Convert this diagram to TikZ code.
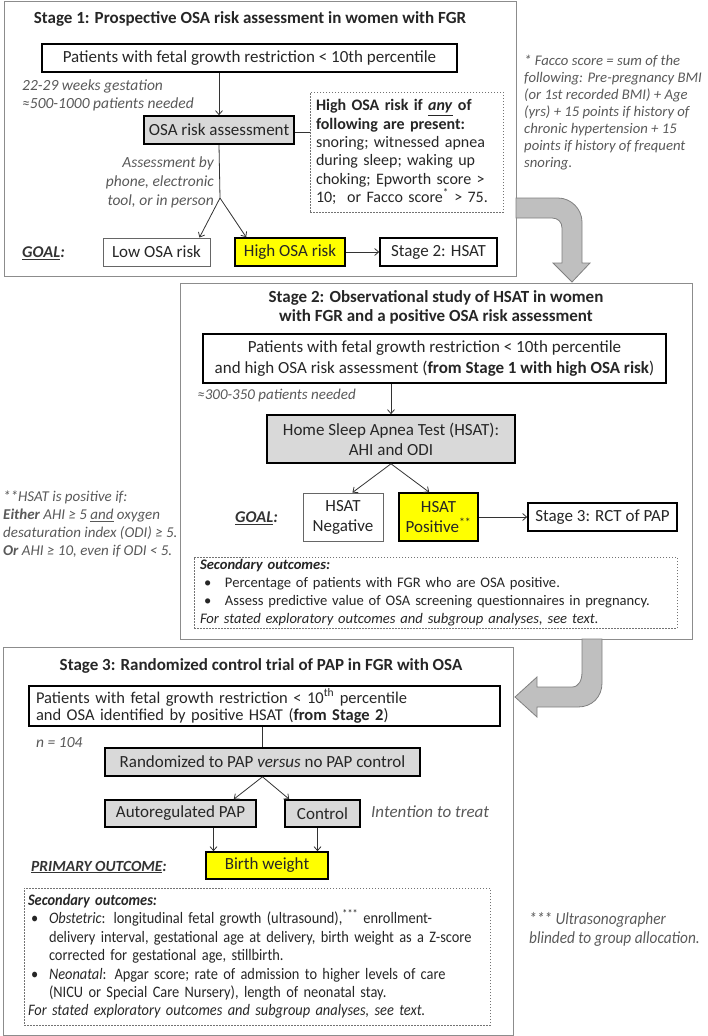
\documentclass[tikz,border=0pt]{standalone}
\usepackage{fontspec}
\setmainfont{Carlito}
\newfontfamily\narrowfont[FakeStretch=0.9]{Carlito}
\usetikzlibrary{arrows.meta}

\definecolor{boxgray}{HTML}{D9D9D9}
\definecolor{hiyellow}{HTML}{FFFF00}
\definecolor{notegray}{HTML}{595959}
\definecolor{framegray}{HTML}{8C8C8C}
\definecolor{arrowgray}{HTML}{BFBFBF}

\tikzset{
  stageframe/.style={draw=framegray, line width=0.9pt},
  box/.style={draw=black, line width=1.6pt, inner sep=0pt, text=black!85, font=\fontsize{17}{20}\selectfont, align=center},
  graybox/.style={box, fill=boxgray},
  hibox/.style={box, fill=hiyellow},
  thinbox/.style={box, draw=black!60, line width=0.9pt},
  dotbox/.style={draw=black!55, dash pattern=on 1.5pt off 1.5pt, line width=0.8pt, inner ysep=0pt, text=black!85, align=left},
  sidenote/.style={text=notegray, font=\fontsize{15}{18}\selectfont\itshape, align=left, inner sep=0pt},
  stagetitle/.style={font=\fontsize{17}{19}\selectfont\bfseries, text=black!85, align=center, inner sep=0pt},
  goal/.style={font=\fontsize{16.4}{18}\selectfont\bfseries\itshape, text=black!80, inner sep=0pt},
  flow/.style={-{Straight Barb[length=4pt,width=7pt]}, line width=0.8pt, draw=black!80},
  thinline/.style={line width=0.8pt, draw=black!80},
  bigarrow/.style={fill=arrowgray, draw=black!50, line width=0.8pt},
}

\begin{document}
\begin{tikzpicture}[x=1pt, y=-1pt]
	\useasboundingbox (0,0) rectangle (708,1036);

	% stage 1
	\begin{scope}
	\draw[stageframe] (4,1) rectangle (516,276);
	\node[stagetitle] (s1title) at (250,19) {Stage 1: Prospective OSA risk assessment in women with FGR};
	\node[box, minimum width=415pt, minimum height=28pt] (s1pat) at (249.5,58) {Patients with fetal growth restriction < 10th percentile};
	\node[sidenote, anchor=west, font=\fontsize{15.5}{18}\selectfont\itshape] (s1need) at (22,95) {22-29 weeks gestation\\≈500-1000 patients needed};
	\node[graybox, minimum width=150pt, minimum height=28pt] (s1risk) at (219,130) {OSA risk assessment};
	\node[dotbox, minimum width=193pt, minimum height=120pt, text width=181pt, inner xsep=6pt, font=\fontsize{16}{18.3}\selectfont] (s1crit) at (406.5,152)
		{\textbf{High OSA risk if \underline{\textit{any}} of}\\\textbf{following are present:}\\snoring; witnessed apnea\\during sleep; waking up\\choking; Epworth score >\\10;~ or Facco score\textsuperscript{*} > 75.};
	\node[sidenote, align=right, anchor=east, font=\fontsize{15.5}{19}\selectfont\itshape] (s1how) at (214,182) {Assessment by\\phone, electronic\\tool, or in person};
	\coordinate (s1split) at (220,198);
	\node[thinbox, minimum width=107pt, minimum height=28pt] (s1low) at (156.5,252) {Low OSA risk};
	\node[hibox, minimum width=110pt, minimum height=28pt] (s1high) at (290,252) {High OSA risk};
	\node[box, minimum width=117pt, minimum height=28pt] (s1next) at (438.5,252) {Stage 2: HSAT};
	\node[goal, anchor=west] (s1goal) at (22,253) {\underline{GOAL}:};

	\draw[flow] (s1pat.south -| s1risk.north) -- (s1risk.north);
	\draw[thinline] ([yshift=-2pt]s1risk.east) -- ([yshift=-2pt]s1risk.east -| s1crit.west);
	\draw[thinline] (s1risk.south) -- (s1split);
	\draw[flow] (s1split) -- ([xshift=-11pt]s1low.north east);
	\draw[flow] (s1split) -- ([xshift=12pt]s1high.north west);
	\draw[flow] (s1high) -- (s1next);
	\end{scope}

	\node[sidenote, anchor=north west, font=\fontsize{14.7}{17}\selectfont\itshape] (facco) at (524,55) {* Facco score = sum of the\\following: Pre-pregnancy BMI\\(or 1st recorded BMI) + Age\\(yrs) + 15 points if history of\\chronic hypertension + 15\\points if history of frequent\\snoring.};

	% big arrow 1 -> 2
	\draw[bigarrow] (516,198) -- (558,198) .. controls (571,198) and (582,209) .. (582,222) -- (582,263) -- (590,263) -- (572,282) -- (553,263) -- (562,263) -- (562,228) .. controls (562,222) and (558,218) .. (552,218) -- (516,218) -- cycle;

	% stage 2
	\begin{scope}
	\draw[stageframe, fill=white] (180,283) rectangle (692,639);
	\node[stagetitle] (s2title) at (436,307.5) {Stage 2: Observational study of HSAT in women\\with FGR and a positive OSA risk assessment};
	\node[box, minimum width=463pt, minimum height=49pt, font=\fontsize{17}{21.5}\selectfont] (s2pat) at (434.5,358.5) {Patients with fetal growth restriction < 10th percentile\\and high OSA risk assessment (\textbf{from Stage 1 with high OSA risk})};
	\node[sidenote, anchor=east] (s2need) at (356,395) {≈300-350 patients needed};
	\node[graybox, minimum width=248pt, minimum height=48pt] (s2hsat) at (391,439) {Home Sleep Apnea Test (HSAT):\\AHI and ODI};
	\node[thinbox, minimum width=80pt, minimum height=48pt] (s2neg) at (343,517) {HSAT\\Negative};
	\node[hibox, minimum width=79pt, minimum height=48pt] (s2pos) at (438.5,517) {HSAT\\Positive\textsuperscript{**}};
	\node[box, minimum width=149pt, minimum height=28pt] (s2next) at (602.5,517) {Stage 3: RCT of PAP};
	\node[goal, anchor=west] (s2goal) at (235,518) {\underline{GOAL}:};
	\node[dotbox, minimum width=483pt, minimum height=71pt, text width=471pt, inner xsep=6pt, font=\fontsize{14.6}{18}\selectfont] (s2sec) at (435.5,592.5)
		{\textbf{\textit{Secondary outcomes:}}\\
		\hspace*{4pt}\makebox[21pt][l]{•}Percentage of patients with FGR who are OSA positive.\\
		\hspace*{4pt}\makebox[21pt][l]{•}Assess predictive value of OSA screening questionnaires in pregnancy.\\
		\textit{For stated exploratory outcomes and subgroup analyses, see text.}};

	\draw[flow] (s2pat.south -| s2hsat.north) -- (s2hsat.north);
	\draw[flow] (s2hsat.south) -- ([xshift=-31pt]s2neg.north east);
	\draw[flow] (s2hsat.south) -- ([xshift=31pt]s2pos.north west);
	\draw[flow] (s2pos) -- (s2next);
	\end{scope}

	\node[sidenote, anchor=west] (hsatnote) at (3,524) {**HSAT is positive if:\\\textbf{Either} AHI ≥ 5 \underline{and} oxygen\\desaturation index (ODI) ≥ 5.\\\textbf{Or} AHI ≥ 10, even if ODI < 5.};

	% big arrow 2 -> 3
	\draw[bigarrow] (582,639) -- (582,672) .. controls (582,680) and (579,687) .. (572,687) -- (537,687) -- (537,677) -- (515,697) -- (537,717) -- (537,707) -- (578,707) .. controls (592,707) and (602,697) .. (602,683) -- (602,639) -- cycle;

	% stage 3
	\begin{scope}
	\draw[stageframe] (3,647) rectangle (513,1035);
	\node[stagetitle] (s3title) at (261,666) {Stage 3: Randomized control trial of PAP in FGR with OSA};
	\node[box, minimum width=471pt, minimum height=40pt, text width=457pt, align=left, font=\fontsize{16.5}{17.5}\selectfont] (s3pat) at (264.5,706) {Patients with fetal growth restriction < 10\textsuperscript{th} percentile\\and OSA identified by positive HSAT (\textbf{from Stage 2})};
	\node[sidenote, anchor=west, font=\fontsize{15.5}{17}\selectfont\itshape] (s3n) at (36,743) {n = 104};
	\node[graybox, minimum width=315pt, minimum height=28pt] (s3rand) at (262.5,762) {Randomized to PAP \textit{versus} no PAP control};
	\node[graybox, minimum width=151pt, minimum height=27pt] (s3pap) at (180.5,813.5) {Autoregulated PAP};
	\node[graybox, minimum width=75pt, minimum height=27pt] (s3ctrl) at (322.5,813.5) {Control};
	\node[sidenote, anchor=west, font=\fontsize{17}{19}\selectfont\itshape] (s3itt) at (371,812) {Intention to treat};
	\node[hibox, minimum width=122pt, minimum height=27pt] (s3bw) at (267,865.5) {Birth weight};
	\node[goal, anchor=west, font=\fontsize{15.5}{17}\selectfont\bfseries\itshape] (s3goal) at (31,867) {\underline{PRIMARY OUTCOME}:};
	\node[dotbox, minimum width=466pt, minimum height=137pt, text width=458pt, inner xsep=4pt, font=\fontsize{16}{18.4}\narrowfont] (s3sec) at (257,956.5)
		{\textbf{\textit{Secondary outcomes:}}\\
		\hspace*{3pt}\makebox[18pt][l]{•}\textit{Obstetric}: longitudinal fetal growth (ultrasound),\textsuperscript{***} enrollment-\\
		\hspace*{21pt}delivery interval, gestational age at delivery, birth weight as a Z-score\\
		\hspace*{21pt}corrected for gestational age, stillbirth.\\
		\hspace*{3pt}\makebox[18pt][l]{•}\textit{Neonatal}: Apgar score; rate of admission to higher levels of care\\
		\hspace*{21pt}(NICU or Special Care Nursery), length of neonatal stay.\\
		\textit{For stated exploratory outcomes and subgroup analyses, see text.}};

	\draw[thinline] (s3pat.south -| s3rand.north) -- (s3rand.north);
	\draw[flow] (s3rand.south) -- ([xshift=-23pt]s3pap.north east);
	\draw[flow] (s3rand.south) -- ([xshift=5pt]s3ctrl.north west);
	\draw[flow] ([xshift=33pt]s3pap.south) -- ([xshift=33pt]s3pap.south |- s3bw.north);
	\draw[flow] ([xshift=-5pt]s3ctrl.south) -- ([xshift=-5pt]s3ctrl.south |- s3bw.north);
	\end{scope}

	\node[sidenote, anchor=west, font=\fontsize{17}{19}\narrowfont\itshape] (usnote) at (529,929) {*** Ultrasonographer\\blinded to group allocation.};
\end{tikzpicture}
\end{document}
